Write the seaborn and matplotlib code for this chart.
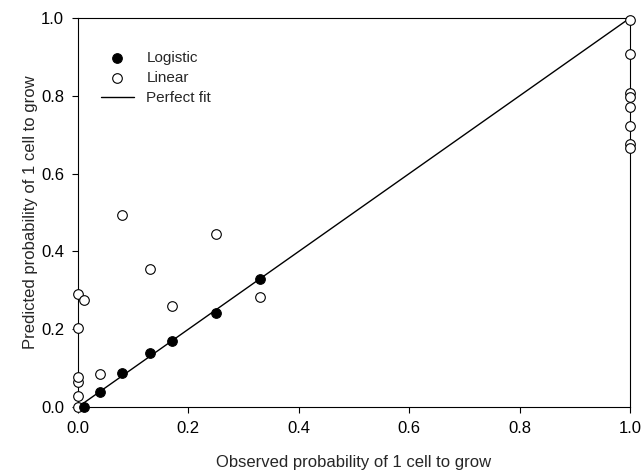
import numpy as np
import pandas as pd
import seaborn as sns
import matplotlib
matplotlib.use("Agg")
import matplotlib.pyplot as plt

sns.set_style("ticks")
plt.rcParams["font.family"] = ["Liberation Sans", "DejaVu Sans"]

# Observed vs predicted probabilities
logistic_obs = [0.01, 0.04, 0.08, 0.13, 0.17, 0.25, 0.33]
logistic_pred = [0.001, 0.038, 0.088, 0.139, 0.17, 0.242, 0.329]

linear_obs = [0.0, 0.0, 0.0, 0.0, 0.0, 0.0, 0.011, 0.04, 0.08, 0.13, 0.17, 0.25, 0.33,
              1.0, 1.0, 1.0, 1.0, 1.0, 1.0, 1.0, 1.0]
linear_pred = [0.0, 0.029, 0.063, 0.078, 0.202, 0.29, 0.275, 0.084, 0.494, 0.354, 0.26, 0.444, 0.284,
               0.995, 0.907, 0.807, 0.796, 0.772, 0.722, 0.675, 0.665]

fit_x = [0.0, 1.0]
fit_y = [0.0, 1.0]

df_log = pd.DataFrame({"obs": logistic_obs, "pred": logistic_pred})
df_lin = pd.DataFrame({"obs": linear_obs, "pred": linear_pred})
df_fit = pd.DataFrame({"obs": fit_x, "pred": fit_y})

fig = plt.figure(figsize=(6.42, 4.71), dpi=100)
ax = fig.add_axes([78 / 642, 1 - 407 / 471, (630 - 78) / 642, (407 - 18) / 471])

sns.lineplot(data=df_fit, x="obs", y="pred", color="black", lw=1.0, ax=ax,
             label="Perfect fit", zorder=2)
sns.scatterplot(data=df_lin, x="obs", y="pred", ax=ax, s=48, facecolor="white",
                edgecolor="black", linewidth=0.8, label="Linear", zorder=3, clip_on=False)
sns.scatterplot(data=df_log, x="obs", y="pred", ax=ax, s=48, color="black",
                edgecolor="black", linewidth=0.8, label="Logistic", zorder=4, clip_on=False)

ticks = np.arange(0, 1.01, 0.2)
ax.set_xlim(0, 1)
ax.set_ylim(0, 1)
ax.set_xticks(ticks)
ax.set_yticks(ticks)
ax.set_xticklabels([f"{v:.1f}" for v in ticks])
ax.set_yticklabels([f"{v:.1f}" for v in ticks])
ax.tick_params(direction="out", length=4, width=0.8, pad=6, labelsize=12, colors="black")
for sp in ax.spines.values():
    sp.set_linewidth(0.8)
    sp.set_color("black")

ax.set_xlabel("Observed probability of 1 cell to grow", fontsize=12, labelpad=14)
ax.set_ylabel("Predicted probability of 1 cell to grow", fontsize=12, labelpad=2)

handles, labels = ax.get_legend_handles_labels()
order = [labels.index("Logistic"), labels.index("Linear"), labels.index("Perfect fit")]
ax.legend([handles[i] for i in order], [labels[i] for i in order], frameon=False,
          loc="upper left", bbox_to_anchor=(0.016, 0.95), fontsize=11,
          handlelength=2.2, labelspacing=0.4, handletextpad=0.8)

fig.savefig("out.png", dpi=100)
